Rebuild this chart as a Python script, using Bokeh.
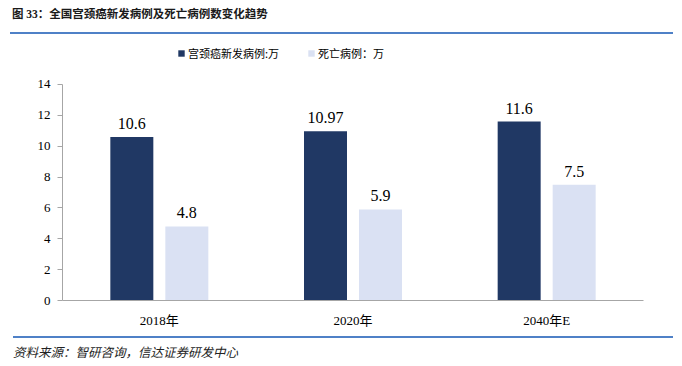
from bokeh.plotting import figure
from bokeh.models import (ColumnDataSource, FactorRange, Legend, LegendItem, Div,
                          FixedTicker)
from bokeh.transform import dodge
from bokeh.layouts import column
from bokeh.core.properties import value
from bokeh.embed import file_html
from bokeh.resources import INLINE

categories = ["2018年", "2020年", "2040年E"]
new_cases = [10.6, 10.97, 11.6]
deaths = [4.8, 5.9, 7.5]
new_labels = ["10.6", "10.97", "11.6"]
death_labels = ["4.8", "5.9", "7.5"]
series_names = ["宫颈癌新发病例:万", "死亡病例：万"]
y_ticks = [0, 2, 4, 6, 8, 10, 12, 14]
title_text = "图 33：全国宫颈癌新发病例及死亡病例数变化趋势"
source_text = "资料来源：智研咨询，信达证券研发中心"

DARK = "#203864"
LIGHT = "#DAE1F3"
BLUE = "#4F81C7"
SERIF = "Liberation Serif, Noto Sans CJK SC"

src = ColumnDataSource(dict(cat=categories, new=new_cases, dead=deaths,
                            new_lab=new_labels, dead_lab=death_labels))

# frame extends above the 14 tick to leave room for the legend
p = figure(x_range=FactorRange(*categories), y_range=(0, 16.85),
           width=674, height=302, output_backend="svg", toolbar_location=None,
           min_border_left=62, min_border_right=31, min_border_top=6,
           min_border_bottom=36, outline_line_color=None)

r1 = p.vbar(x=dodge("cat", -0.142, range=p.x_range), top="new", width=0.222,
            source=src, fill_color=DARK, line_color=None)
r2 = p.vbar(x=dodge("cat", 0.142, range=p.x_range), top="dead", width=0.222,
            source=src, fill_color=LIGHT, line_color=None)

p.text(x=dodge("cat", -0.142, range=p.x_range), y="new", text="new_lab", source=src,
       text_align="center", text_baseline="bottom", y_offset=-8,
       text_font=value("Liberation Serif"), text_font_size="16px", text_color="#000000")
p.text(x=dodge("cat", 0.142, range=p.x_range), y="dead", text="dead_lab", source=src,
       text_align="center", text_baseline="bottom", y_offset=-8,
       text_font=value("Liberation Serif"), text_font_size="16px", text_color="#000000")

p.xgrid.visible = False
p.ygrid.visible = False

p.xaxis.axis_line_color = "#A6A6A6"
p.xaxis.major_tick_line_color = None
p.xaxis.minor_tick_line_color = None
p.xaxis.major_label_text_font = SERIF
p.xaxis.major_label_text_font_size = "13px"
p.xaxis.major_label_text_color = "#000000"
p.xaxis.major_label_standoff = 6

p.yaxis.ticker = FixedTicker(ticks=y_ticks)
p.yaxis.bounds = (y_ticks[0], y_ticks[-1])
p.yaxis.axis_line_color = "#A6A6A6"
p.yaxis.major_tick_line_color = "#A6A6A6"
p.yaxis.major_tick_out = 5
p.yaxis.major_tick_in = 0
p.yaxis.minor_tick_line_color = None
p.yaxis.major_label_text_font = SERIF
p.yaxis.major_label_text_font_size = "13px"
p.yaxis.major_label_text_color = "#000000"
p.yaxis.major_label_standoff = 7

legend = Legend(items=[LegendItem(label=series_names[0], renderers=[r1]),
                       LegendItem(label=series_names[1], renderers=[r2])],
                orientation="horizontal", location=(115, 239),
                glyph_width=8, glyph_height=8, label_standoff=3, spacing=28,
                padding=0, margin=0, border_line_color=None, background_fill_alpha=0,
                label_text_font="Noto Sans CJK SC", label_text_font_size="11px",
                label_text_color="#000000")
p.add_layout(legend, "center")

header = Div(text=title_text, width=663, height=34, margin=(0, 0, 0, 10),
             styles={"font-family": "Liberation Serif, Noto Sans CJK SC",
                     "font-weight": "bold", "font-size": "11.5px", "color": "#1a1a1a",
                     "border-bottom": "2px solid " + BLUE, "box-sizing": "border-box",
                     "padding-top": "7px", "padding-left": "2px", "line-height": "14px"})
footer = Div(text=source_text, width=660, height=26, margin=(0, 0, 0, 13),
             styles={"font-family": "Noto Sans CJK SC", "font-style": "italic",
                     "font-size": "12.5px", "color": "#222222",
                     "border-top": "2px solid " + BLUE, "box-sizing": "border-box",
                     "padding-top": "7px", "line-height": "14px"})

layout = column(header, p, footer, spacing=0)
open("out.html", "w").write(file_html(layout, INLINE))
